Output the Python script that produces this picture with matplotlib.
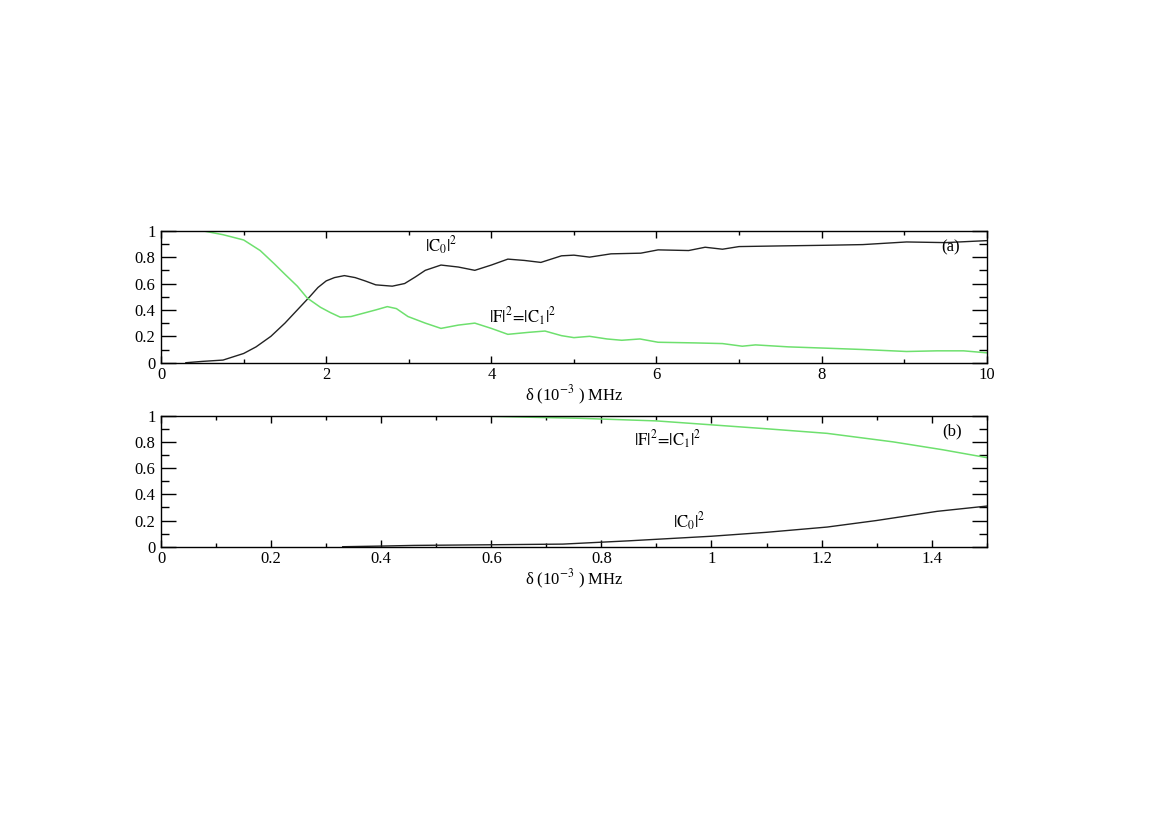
import matplotlib
matplotlib.use("Agg")
import matplotlib.pyplot as plt
from matplotlib.ticker import MultipleLocator

plt.rcParams['font.family'] = ['Liberation Serif', 'DejaVu Serif']
plt.rcParams['mathtext.fontset'] = 'stix'

# panel (a): delta in 1e-3 MHz
xa_c0 = [0.3, 0.5, 0.75, 1.0, 1.15, 1.33, 1.5, 1.65, 1.8, 1.9, 2.0, 2.1, 2.22, 2.35, 2.47,
         2.6, 2.8, 2.95, 3.08, 3.2, 3.39, 3.6, 3.8, 4.0, 4.2, 4.4, 4.6, 4.85, 5.0, 5.19,
         5.45, 5.81, 6.02, 6.39, 6.59, 6.8, 7.0, 7.5, 8.06, 8.5, 9.03, 9.5, 10.0]
ya_c0 = [0.0, 0.01, 0.02, 0.07, 0.12, 0.2, 0.3, 0.4, 0.5, 0.57, 0.62, 0.645, 0.66, 0.645, 0.62,
         0.59, 0.58, 0.6, 0.65, 0.7, 0.74, 0.725, 0.70, 0.74, 0.785, 0.775, 0.76, 0.81, 0.815, 0.80,
         0.825, 0.83, 0.855, 0.85, 0.875, 0.86, 0.88, 0.885, 0.89, 0.895, 0.915, 0.91, 0.925]

xa_f = [0.0, 0.5, 0.75, 1.0, 1.2, 1.37, 1.5, 1.65, 1.77, 1.93, 2.05, 2.17, 2.3, 2.45, 2.6,
        2.74, 2.85, 2.99, 3.2, 3.39, 3.6, 3.8, 4.0, 4.2, 4.45, 4.65, 4.85, 5.0, 5.19, 5.4,
        5.58, 5.8, 6.02, 6.47, 6.8, 7.04, 7.2, 7.6, 8.06, 8.5, 9.03, 9.4, 9.72, 10.0]
ya_f = [1.0, 1.0, 0.97, 0.93, 0.85, 0.75, 0.67, 0.58, 0.49, 0.42, 0.38, 0.345, 0.35, 0.375, 0.4,
        0.425, 0.41, 0.35, 0.3, 0.26, 0.285, 0.3, 0.26, 0.215, 0.23, 0.24, 0.205, 0.19, 0.2, 0.18,
        0.17, 0.18, 0.155, 0.15, 0.145, 0.125, 0.135, 0.12, 0.11, 0.1, 0.085, 0.09, 0.09, 0.075]

# panel (b)
xb_c0 = [0.33, 0.4, 0.46, 0.6, 0.73, 0.85, 1.0, 1.1, 1.21, 1.3, 1.41, 1.5]
yb_c0 = [0.0, 0.005, 0.01, 0.015, 0.02, 0.045, 0.08, 0.11, 0.15, 0.2, 0.27, 0.31]

xb_f = [0.55, 0.65, 0.76, 0.9, 1.0, 1.1, 1.21, 1.33, 1.42, 1.5]
yb_f = [1.0, 0.99, 0.98, 0.96, 0.93, 0.9, 0.865, 0.80, 0.74, 0.68]

green = '#6ee06e'
dark = '#222222'

fig = plt.figure(figsize=(11.76, 8.3), dpi=100)
ax1 = fig.add_axes([0.137, 0.563, 0.702, 0.159])
ax2 = fig.add_axes([0.137, 0.3413, 0.702, 0.1579])

ax1.plot(xa_c0, ya_c0, color=dark, lw=1)
ax1.plot(xa_f, ya_f, color=green, lw=1.1)
ax2.plot(xb_c0, yb_c0, color=dark, lw=1)
ax2.plot(xb_f, yb_f, color=green, lw=1.1)

ax1.set_xlim(0, 10)
ax1.xaxis.set_major_locator(MultipleLocator(2))
ax1.xaxis.set_minor_locator(MultipleLocator(1))
ax2.set_xlim(0, 1.5)
ax2.xaxis.set_major_locator(MultipleLocator(0.2))
ax2.xaxis.set_minor_locator(MultipleLocator(0.1))

fmt = matplotlib.ticker.FuncFormatter(lambda v, p: '%g' % round(v, 3))
for ax in (ax1, ax2):
    ax.set_ylim(0, 1)
    ax.yaxis.set_major_locator(MultipleLocator(0.2))
    ax.yaxis.set_minor_locator(MultipleLocator(0.1))
    ax.xaxis.set_major_formatter(fmt)
    ax.yaxis.set_major_formatter(fmt)
    ax.tick_params(which='both', direction='in', top=True, right=True, labelsize=12, width=1)
    ax.tick_params(axis='x', which='major', length=5, pad=3)
    ax.tick_params(axis='x', which='minor', length=3)
    ax.tick_params(axis='y', which='major', length=11, pad=4)
    ax.tick_params(axis='y', which='minor', length=6)
    for s in ax.spines.values():
        s.set_linewidth(1)
    ax.set_xlabel('δ (10$^{-3}$ ) MHz', fontsize=12, labelpad=1)

c0_label = r'$\mathrm{|C_0|^2}$'
f_label = r'$\mathrm{|F|^2\!=\!|C_1|^2}$'

ax1.text(3.2, 0.84, c0_label, fontsize=12)
ax1.text(3.97, 0.30, f_label, fontsize=12)
ax1.text(9.45, 0.84, '(a)', fontsize=12)

ax2.text(0.86, 0.77, f_label, fontsize=12)
ax2.text(0.93, 0.14, c0_label, fontsize=12)
ax2.text(1.42, 0.85, '(b)', fontsize=12)

plt.savefig('out.png', dpi=100)
